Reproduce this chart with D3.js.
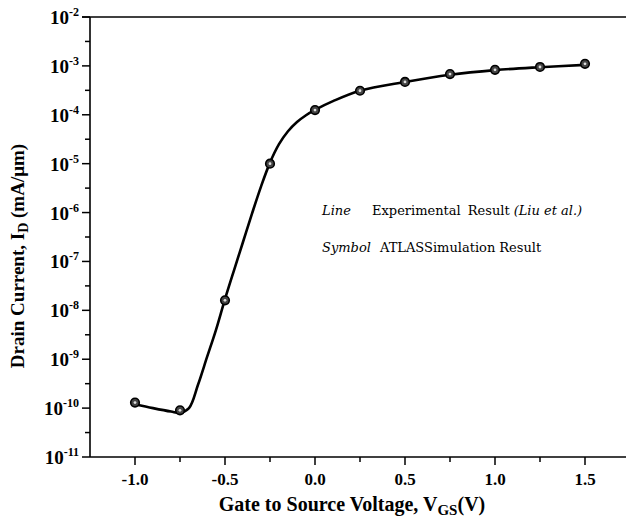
<!DOCTYPE html>
<html><head><meta charset="utf-8">
<script src="https://cdn.jsdelivr.net/npm/d3@7"></script>
<style>body{margin:0;background:#fff}</style>
</head><body>
<svg id="c" width="626" height="525"></svg>
<script>
// Experimental curve (Line)
const lineV = [-1.0, -0.9, -0.8, -0.75, -0.7, -0.65, -0.6, -0.55, -0.5, -0.45, -0.4, -0.35, -0.3, -0.25, -0.2, -0.15, -0.1, -0.05, 0.0, 0.1, 0.25, 0.5, 0.75, 1.0, 1.25, 1.5];
const lineI = [1.2e-10, 1.0e-10, 8.5e-11, 8.0e-11, 1.0e-10, 3.0e-10, 1.1e-9, 4.0e-9, 1.7e-8, 6.6e-8, 2.5e-7, 9.5e-7, 3.4e-6, 1.05e-5, 2.5e-5, 4.6e-5, 7.1e-5, 9.8e-5, 1.26e-4, 1.9e-4, 3.1e-4, 4.7e-4, 6.6e-4, 8.2e-4, 9.4e-4, 1.05e-3];
// ATLAS simulation (Symbol)
const simV = [-1.0, -0.75, -0.5, -0.25, 0.0, 0.25, 0.5, 0.75, 1.0, 1.25, 1.5];
const simI = [1.3e-10, 9.0e-11, 1.6e-8, 1.0e-5, 1.25e-4, 3.1e-4, 4.7e-4, 6.8e-4, 8.3e-4, 9.5e-4, 1.1e-3];
// Axis ticks
const xMajor = [-1.0, -0.5, 0.0, 0.5, 1.0, 1.5];
const xMinor = [-0.75, -0.25, 0.25, 0.75, 1.25];
const yExp = [-2, -3, -4, -5, -6, -7, -8, -9, -10, -11];

const svg = d3.select("#c");
const x = d3.scaleLinear().domain([-1.25, 1.75]).range([90, 630]);
const y = d3.scaleLog().domain([1e-11, 1e-2]).range([457, 17]);
const serif = "'Liberation Serif','Times New Roman',serif";

// axes lines
svg.append("line").attr("x1", 90).attr("x2", 626).attr("y1", 457).attr("y2", 457).attr("stroke", "#000").attr("stroke-width", 1.6);
svg.append("line").attr("x1", 90).attr("x2", 90).attr("y1", 17).attr("y2", 457).attr("stroke", "#000").attr("stroke-width", 1.6);
svg.append("line").attr("x1", 82).attr("x2", 626).attr("y1", 17).attr("y2", 17).attr("stroke", "#000").attr("stroke-width", 1.6);

// x ticks
xMajor.forEach(v => {
  svg.append("line").attr("x1", x(v)).attr("x2", x(v)).attr("y1", 457).attr("y2", 465).attr("stroke", "#000").attr("stroke-width", 1.5);
  svg.append("text").attr("x", x(v)).attr("y", 485).attr("text-anchor", "middle")
    .attr("font-family", serif).attr("font-weight", "bold").attr("font-size", 17).text(v.toFixed(1));
});
xMinor.forEach(v => {
  svg.append("line").attr("x1", x(v)).attr("x2", x(v)).attr("y1", 457).attr("y2", 462).attr("stroke", "#000").attr("stroke-width", 1.5);
});

// y ticks
yExp.forEach(e => {
  const yy = y(Math.pow(10, e));
  svg.append("line").attr("x1", 82).attr("x2", 90).attr("y1", yy).attr("y2", yy).attr("stroke", "#000").attr("stroke-width", 1.5);
  const t = svg.append("text").attr("x", 79).attr("y", yy + 7).attr("text-anchor", "end")
    .attr("font-family", serif).attr("font-weight", "bold").attr("font-size", 19);
  t.append("tspan").text("10");
  t.append("tspan").attr("dy", -8).attr("font-size", 12).text(String(e));
  if (e > -11) {
    const ym = y(Math.pow(10, e - 0.5));
    svg.append("line").attr("x1", 85).attr("x2", 90).attr("y1", ym).attr("y2", ym).attr("stroke", "#000").attr("stroke-width", 1.5);
  }
});

// axis titles
const xt = svg.append("text").attr("x", 352).attr("y", 511).attr("text-anchor", "middle")
  .attr("font-family", serif).attr("font-weight", "bold").attr("font-size", 20);
xt.append("tspan").text("Gate to Source Voltage, V");
xt.append("tspan").attr("dy", 4).attr("font-size", 15).text("GS");
xt.append("tspan").attr("dy", -4).text("(V)");

const yt = svg.append("text").attr("transform", "translate(24,256) rotate(-90)").attr("text-anchor", "middle")
  .attr("font-family", serif).attr("font-weight", "bold").attr("font-size", 19);
yt.append("tspan").text("Drain Current, I");
yt.append("tspan").attr("dy", 4).attr("font-size", 14).text("D");
yt.append("tspan").attr("dy", -4).text(" (mA/\u03bcm)");

// experimental line
const lineData = lineV.map((v, i) => [v, lineI[i]]);
svg.append("path").datum(lineData)
  .attr("d", d3.line().x(d => x(d[0])).y(d => y(d[1])).curve(d3.curveCatmullRom.alpha(0.5)))
  .attr("fill", "none").attr("stroke", "#000").attr("stroke-width", 2.6);

// simulation symbols
const simData = simV.map((v, i) => [v, simI[i]]);
const g = svg.append("g").selectAll("g").data(simData).join("g")
  .attr("transform", d => `translate(${x(d[0])},${y(d[1])})`);
g.append("circle").attr("r", 4.3).attr("fill", "#444").attr("stroke", "#000").attr("stroke-width", 1.6);
g.append("circle").attr("r", 1.4).attr("fill", "#ddd");

// legend
const lf = "'DejaVu Serif',serif";
const l1 = svg.append("text").attr("x", 322).attr("y", 215).attr("font-family", lf).attr("font-size", 13);
l1.append("tspan").attr("font-style", "italic").text("Line");
l1.append("tspan").attr("x", 372).text("Experimental");
l1.append("tspan").attr("dx", 7).text("Result");
l1.append("tspan").attr("dx", 4).attr("font-style", "italic").text("(Liu et al.)");
const l2 = svg.append("text").attr("x", 322).attr("y", 252).attr("font-family", lf).attr("font-size", 13);
l2.append("tspan").attr("font-style", "italic").text("Symbol");
l2.append("tspan").attr("x", 380).text("ATLASSimulation");
l2.append("tspan").attr("dx", 4).text("Result");
</script>
</body></html>
